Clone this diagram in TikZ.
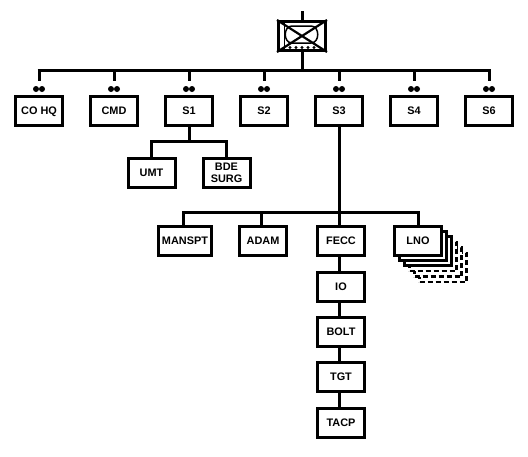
\documentclass[tikz,border=0pt]{standalone}
\usepackage{fontspec}
\setmainfont{Liberation Sans}
\tikzset{
  x=1pt,y=-1pt,
  unitbox/.style={draw=black,line width=3pt,fill=white,minimum width=47pt,minimum height=29pt,inner sep=0pt,font=\bfseries\fontsize{10.9}{12}\selectfont},
  oneline/.style={unitbox,text height=7.8pt,text depth=0pt},
  wire/.style={line width=3pt,line cap=butt},
  ghost/.style={draw=black,line width=2.4pt,fill=white,minimum width=47pt,minimum height=29pt,inner sep=0pt},
  ghostd/.style={ghost,dash pattern=on 5pt off 3pt},
  pip/.style={circle,fill=black,minimum size=6pt,inner sep=0pt},
}
\begin{document}
\begin{tikzpicture}
\useasboundingbox (0,0) rectangle (528,456);
% top symbol
\node[draw=black,line width=3pt,minimum width=47pt,minimum height=29pt,inner sep=0pt] (hq) at (302,36) {};
\coordinate (top) at (302,11);
\coordinate (bus) at (302,70);
\draw[wire] (top) -- (hq.north);
\draw[wire] (hq.south) -- (bus);
\draw[line width=1.5pt] (284.5,22) -- (284.5,50);
\draw[line width=1.5pt] (292,26) -- (311,26) .. controls (320,26) and (320,43) .. (311,43) -- (292,43) .. controls (283,43) and (283,26) .. (292,26) -- cycle;
\draw[line width=2.2pt] (hq.north west) -- (hq.south east) (hq.north east) -- (hq.south west);
\foreach \x in {290,296,302,308,314}{\fill[black] (\x,47.5) circle (1.7pt);}
% first row
\foreach \n/\x/\t in {a/39/CO HQ,b/114/CMD,c/189/S1,d/264/S2,e/339/S3,f/414/S4,g/489/S6}{
  \node[oneline] (\n) at (\x,110.5) {\t};
  \node[pip] (\n p) at (\x-3,89) {};
  \node[pip] (\n q) at (\x+3,89) {};
  \coordinate (\n t) at (\x,70);
  \coordinate (\n u) at (\x,81);
  \draw[wire] (\n t) -- (\n u);
}
\draw[wire] ([xshift=-1.5pt]at) -- ([xshift=1.5pt]gt);
% S1 children
\node[oneline] (umt) at (151.5,173) {UMT};
\node[unitbox,align=center] (surg) at (226.5,173) {BDE\\SURG};
\coordinate (s1bus) at (189,141);
\draw[wire] (c.south) -- (s1bus);
\draw[wire] (umt.north) |- (s1bus) -| (surg.north);
% LNO stack
\node[ghostd] (l5) at (443,267.5) {};
\node[ghostd] (l4) at (438,262) {};
\node[ghostd] (l3) at (433,256.5) {};
\node[ghost] (l2) at (428,251) {};
\node[ghost] (l1) at (423,246) {};
% S3 children
\node[oneline,minimum width=53pt] (mans) at (185,241) {MANSPT};
\node[oneline] (adam) at (263,241) {ADAM};
\node[oneline] (fecc) at (341,241) {FECC};
\node[oneline] (lno) at (418,241) {LNO};
\coordinate (s3bus) at (339,212);
\coordinate (manst) at (183.5,226);
\coordinate (adamt) at (261,226);
\draw[wire] (e.south) -- (e.south |- fecc.north);
\draw[wire] (manst) |- (s3bus) -| (lno.north);
\draw[wire] (adamt) -- (adamt |- s3bus);
% column
\node[oneline] (io) at (341,286.5) {IO};
\node[oneline] (bolt) at (341,331.5) {BOLT};
\node[oneline] (tgt) at (341,377) {TGT};
\node[oneline] (tacp) at (341,422.5) {TACP};
\draw[wire] (s3bus |- fecc.south) -- (s3bus |- io.north);
\draw[wire] (s3bus |- io.south) -- (s3bus |- bolt.north);
\draw[wire] (s3bus |- bolt.south) -- (s3bus |- tgt.north);
\draw[wire] (s3bus |- tgt.south) -- (s3bus |- tacp.north);
\end{tikzpicture}
\end{document}
